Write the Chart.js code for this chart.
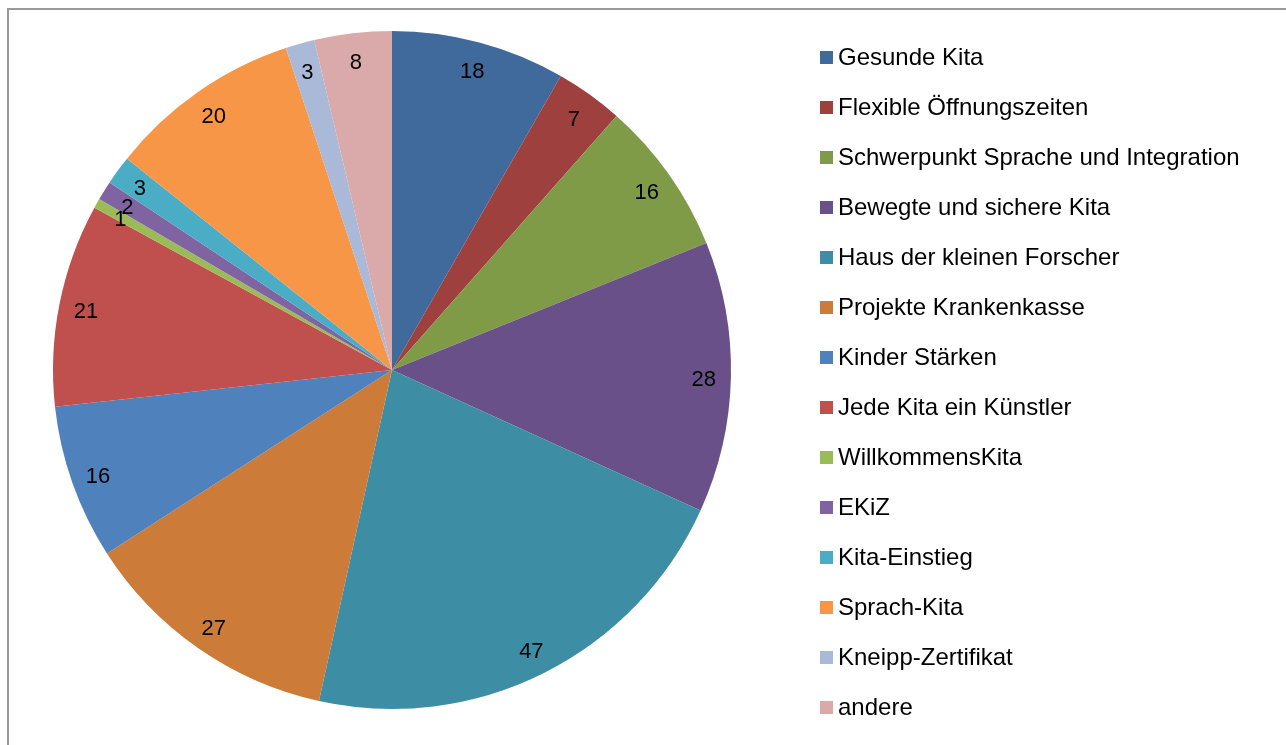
<!DOCTYPE html>
<html>
<head>
<meta charset="utf-8">
<script src="https://cdn.jsdelivr.net/npm/chart.js@4/dist/chart.umd.min.js"></script>
<style>
  html, body { margin: 0; padding: 0; background: #fff; }
  body { width: 1286px; height: 745px; position: relative; overflow: hidden; font-family: "Liberation Sans", Arial, sans-serif; }
  #frame { position: absolute; left: 7px; top: 8px; width: 1290px; height: 760px; border: 2px solid #999; box-sizing: border-box; }
  #pie { position: absolute; left: 0; top: 0; }
  #legend { position: absolute; left: 820px; top: 32px; }
  .item { height: 50px; display: flex; align-items: center; }
  .box { width: 13px; height: 13px; margin-right: 5px; }
  .txt { font-size: 24px; line-height: 1; color: #000; white-space: nowrap; }
</style>
</head>
<body>
<div id="frame"></div>
<canvas id="pie" width="1286" height="745"></canvas>
<div id="legend"></div>
<script>
// === Data ===
const labels = [
  "Gesunde Kita",
  "Flexible Öffnungszeiten",
  "Schwerpunkt Sprache und Integration",
  "Bewegte und sichere Kita",
  "Haus der kleinen Forscher",
  "Projekte Krankenkasse",
  "Kinder Stärken",
  "Jede Kita ein Künstler",
  "WillkommensKita",
  "EKiZ",
  "Kita-Einstieg",
  "Sprach-Kita",
  "Kneipp-Zertifikat",
  "andere",
];
const counts = [18, 7, 16, 28, 47, 27, 16, 21, 1, 2, 3, 20, 3, 8];
const colors = [
  "#40699c", "#9e413e", "#809b48", "#6a5088", "#3d8da5", "#cc7b38", "#4f81bd",
  "#c0504d", "#9bbb59", "#8064a2", "#4bacc6", "#f79646", "#a9b9d7", "#d9aaa9",
];

// === Value labels near the rim of each slice ===
const sliceLabels = {
  id: "sliceLabels",
  afterDatasetsDraw(chart) {
    const ctx = chart.ctx;
    const meta = chart.getDatasetMeta(0);
    ctx.save();
    ctx.font = '22px "Liberation Sans", Arial, sans-serif';
    ctx.fillStyle = "#000";
    ctx.textAlign = "center";
    ctx.textBaseline = "middle";
    meta.data.forEach((arc, i) => {
      const p = arc.getProps(["x", "y", "startAngle", "endAngle", "outerRadius"], true);
      const mid = (p.startAngle + p.endAngle) / 2;
      const r = p.outerRadius * 0.92;
      ctx.fillText(String(counts[i]), p.x + Math.cos(mid) * r, p.y + Math.sin(mid) * r + 3);
    });
    ctx.restore();
  },
};

new Chart(document.getElementById("pie"), {
  type: "pie",
  data: {
    labels,
    datasets: [{ data: counts, backgroundColor: colors, borderWidth: 0 }],
  },
  options: {
    responsive: false,
    animation: false,
    layout: { padding: { left: 53, top: 31, right: 555, bottom: 36 } },
    plugins: { legend: { display: false }, tooltip: { enabled: false } },
  },
  plugins: [sliceLabels],
});

// === Legend ===
const legend = document.getElementById("legend");
labels.forEach((name, i) => {
  const row = document.createElement("div");
  row.className = "item";
  row.innerHTML = `<span class="box" style="background:${colors[i]}"></span><span class="txt">${name}</span>`;
  legend.appendChild(row);
});
</script>
</body>
</html>
